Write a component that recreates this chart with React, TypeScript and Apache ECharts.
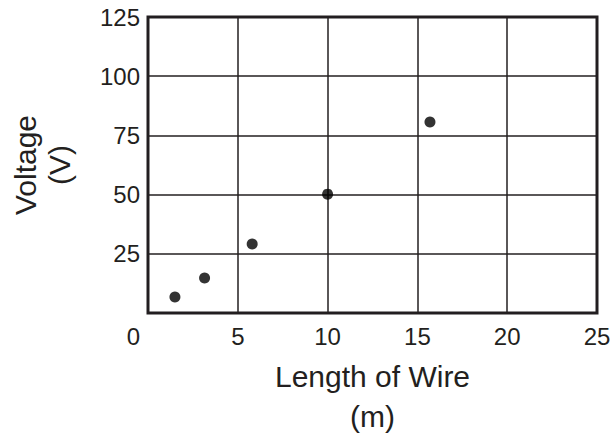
import React, { useEffect, useRef } from "react";
import * as echarts from "echarts";

const lengths = [1.5, 3.15, 5.8, 10, 15.7];
const voltages = [6.8, 14.8, 29.1, 50.2, 80.7];
const xTitle = "Length of Wire\n(m)";
const yTitle = "Voltage\n(V)";

const FONT = "'Liberation Sans', Arial, Helvetica, sans-serif";
const INK = "#231f20";

export default function App() {
  const ref = useRef<HTMLDivElement>(null);
  useEffect(() => {
    document.body.style.margin = "0";
    const chart = echarts.init(ref.current!, null, { renderer: "svg" });
    chart.setOption({
      animation: false,
      backgroundColor: "#ffffff",
      grid: {
        left: 148,
        right: 18,
        top: 17,
        bottom: 121,
        containLabel: false,
        outerBoundsMode: "none",
        show: true,
        borderWidth: 3,
        borderColor: INK,
      },
      xAxis: {
        type: "value",
        min: 0,
        max: 25,
        interval: 5,
        name: xTitle,
        nameLocation: "middle",
        nameGap: 43,
        nameTextStyle: { fontSize: 30, fontFamily: FONT, color: INK, lineHeight: 40 },
        axisLine: { show: false },
        axisTick: { show: false },
        splitLine: { show: true, lineStyle: { color: INK, width: 1.5 } },
        axisLabel: {
          margin: 11,
          fontSize: 24,
          fontFamily: FONT,
          color: INK,
          formatter: (v: number) => (v === 0 ? "{z|0}" : String(v)),
          rich: { z: { fontSize: 24, fontFamily: FONT, color: INK, padding: [0, 29, 0, 0] } },
        },
      },
      yAxis: {
        type: "value",
        min: 0,
        max: 125,
        interval: 25,
        name: yTitle,
        nameLocation: "middle",
        nameRotate: 90,
        nameGap: 72,
        nameTextStyle: { fontSize: 30, fontFamily: FONT, color: INK, lineHeight: 34 },
        axisLine: { show: false },
        axisTick: { show: false },
        splitLine: { show: true, lineStyle: { color: INK, width: 1.5 } },
        axisLabel: {
          margin: 8,
          fontSize: 24,
          fontFamily: FONT,
          color: INK,
          showMinLabel: false,
        },
      },
      series: [
        {
          type: "scatter",
          data: lengths.map((x, i) => [x, voltages[i]]),
          symbol: "circle",
          symbolSize: 11,
          itemStyle: { color: "#000000" },
        },
      ],
    });
    return () => chart.dispose();
  }, []);
  return <div ref={ref} style={{ width: 615, height: 434 }} />;
}
